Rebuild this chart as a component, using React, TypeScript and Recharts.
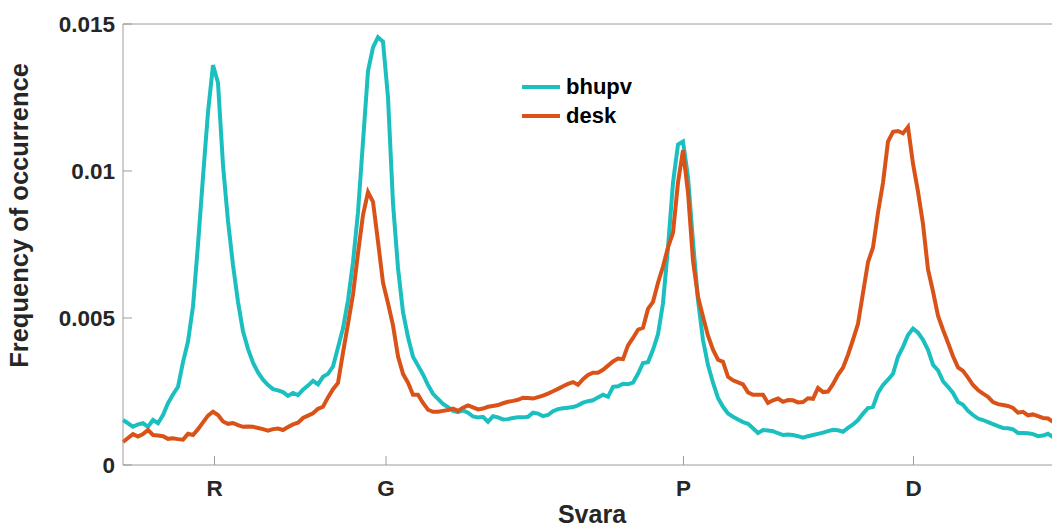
import { LineChart, Line, XAxis, YAxis, Legend } from "recharts";

// pitch bins (5 px apart in the original plot)
const binCount = 187;

// frequency of occurrence, in units of 1e-3
const bhupv = [
  1.53, 1.42, 1.3, 1.38, 1.42, 1.3, 1.53, 1.42, 1.7, 2.1,
  2.4, 2.66, 3.5, 4.2, 5.4, 7.5, 9.8, 12.0, 13.6, 13.0,
  10.2, 8.3, 6.8, 5.55, 4.55, 3.95, 3.48, 3.15, 2.9, 2.72,
  2.58, 2.54, 2.48, 2.35, 2.45, 2.38, 2.56, 2.7, 2.86, 2.74,
  3.0, 3.1, 3.35, 4.0, 4.65, 5.6, 6.9, 8.6, 11.0, 13.4,
  14.2, 14.55, 14.4, 12.5, 8.9, 6.7, 5.2, 4.35, 3.68, 3.38,
  3.08, 2.72, 2.42, 2.25, 2.08, 1.97, 1.84, 1.8, 1.86, 1.78,
  1.65, 1.62, 1.64, 1.47, 1.66, 1.62, 1.55, 1.56, 1.6, 1.62,
  1.62, 1.64, 1.78, 1.75, 1.66, 1.7, 1.83, 1.9, 1.93, 1.95,
  1.97, 2.03, 2.12, 2.17, 2.2, 2.3, 2.39, 2.32, 2.66, 2.68,
  2.76, 2.75, 2.8, 3.1, 3.47, 3.5, 3.92, 4.45, 5.5, 7.4,
  9.6, 10.9, 11.0, 9.8, 7.6, 5.6, 4.25, 3.4, 2.8, 2.28,
  1.98, 1.75, 1.64, 1.55, 1.46, 1.4, 1.25, 1.09, 1.19, 1.17,
  1.15, 1.08, 1.02, 1.04, 1.02, 0.98, 0.93, 0.98, 1.02, 1.06,
  1.1, 1.15, 1.2, 1.18, 1.13, 1.26, 1.38, 1.53, 1.75, 1.94,
  1.98, 2.45, 2.72, 2.9, 3.1, 3.68, 4.02, 4.42, 4.64, 4.5,
  4.26, 3.92, 3.41, 3.22, 2.85, 2.66, 2.45, 2.14, 2.05, 1.84,
  1.7, 1.58, 1.53, 1.46, 1.39, 1.32, 1.26, 1.25, 1.21, 1.09,
  1.09, 1.08, 1.05, 0.98, 1.0, 1.06, 0.95,
];

const desk = [
  0.78, 0.92, 1.05, 0.97, 1.05, 1.19, 1.02, 1.0, 0.98, 0.89,
  0.91, 0.88, 0.86, 1.06, 1.02, 1.22, 1.45, 1.68, 1.81, 1.7,
  1.48, 1.4, 1.43, 1.36, 1.3, 1.31, 1.3, 1.26, 1.22, 1.17,
  1.22, 1.24, 1.19, 1.29, 1.38, 1.44, 1.6, 1.68, 1.76, 1.91,
  1.98, 2.3, 2.58, 2.79, 3.82, 4.8, 5.8, 7.2, 8.5, 9.28,
  8.95, 7.6, 6.2, 5.5, 4.75, 3.7, 3.1, 2.8, 2.39, 2.39,
  2.11, 1.88, 1.81, 1.81, 1.84, 1.87, 1.92, 1.84, 1.95, 2.03,
  1.96, 1.89, 1.92, 1.98, 2.01, 2.04, 2.1, 2.15, 2.18, 2.22,
  2.29, 2.28, 2.26, 2.31, 2.36, 2.43, 2.51, 2.59, 2.68, 2.76,
  2.82, 2.73, 2.92, 3.06, 3.14, 3.14, 3.24, 3.38, 3.52, 3.62,
  3.6, 4.07, 4.32, 4.6, 4.67, 5.31, 5.55, 6.2, 6.75, 7.4,
  7.9, 9.61, 10.7, 9.27, 6.95, 5.72, 5.04, 4.4, 3.92, 3.58,
  3.51, 3.0, 2.88, 2.81, 2.74, 2.47, 2.39, 2.39, 2.39, 2.11,
  2.2, 2.26, 2.15, 2.21, 2.2, 2.13, 2.14, 2.27, 2.25, 2.62,
  2.48, 2.5, 2.75, 3.07, 3.31, 3.75, 4.26, 4.8, 5.85, 6.9,
  7.4, 8.59, 9.6, 11.0, 11.33, 11.36, 11.28, 11.5, 10.25, 9.3,
  8.2, 6.65, 5.9, 5.08, 4.6, 4.16, 3.7, 3.32, 3.2, 2.97,
  2.72, 2.55, 2.43, 2.32, 2.14, 2.07, 2.04, 2.01, 1.94, 1.78,
  1.81, 1.69, 1.72, 1.66, 1.6, 1.58, 1.47,
];

const svaraTicks = [18.3, 52.6, 112.1, 158.1];
const svaraLabels = ["R", "G", "P", "D"];
const freqTicks = [0, 0.005, 0.01, 0.015];

const data = Array.from({ length: binCount }, (_, i) => ({
  bin: i,
  bhupv: bhupv[i] / 1000,
  desk: desk[i] / 1000,
}));

const FONT = "'Liberation Sans', Arial, Helvetica, sans-serif";
const AXIS = "#9c9c9c";
const TEXT = "#262626";

const tickStyle = { fontSize: 22.5, fontWeight: 700, fill: TEXT, fontFamily: FONT };

function YLabel(props: any) {
  const vb = props.viewBox || {};
  const cx = vb.x + 28;
  const cy = vb.y + vb.height / 2 - 29;
  return (
    <text
      x={cx}
      y={cy}
      transform={`rotate(-90, ${cx}, ${cy})`}
      textAnchor="middle"
      fontSize={25.5}
      fontWeight={700}
      fill={TEXT}
      fontFamily={FONT}
    >
      Frequency of occurrence
    </text>
  );
}

function XLabel(props: any) {
  const vb = props.viewBox || {};
  return (
    <text
      x={vb.x + vb.width / 2 + 4}
      y={vb.y + 58}
      textAnchor="middle"
      fontSize={25}
      fontWeight={700}
      fill={TEXT}
      fontFamily={FONT}
    >
      Svara
    </text>
  );
}

function LegendBox(props: any) {
  const items = props.payload || [];
  return (
    <div style={{ fontFamily: FONT }}>
      {items.map((it: any) => (
        <div
          key={it.value}
          style={{ display: "flex", alignItems: "center", height: 29 }}
        >
          <span
            style={{
              display: "inline-block",
              width: 38,
              height: 4,
              background: it.color,
              marginRight: 6,
            }}
          />
          <span style={{ fontSize: 22, fontWeight: 700, color: "#000" }}>
            {it.value}
          </span>
        </div>
      ))}
    </div>
  );
}

export default function App() {
  return (
    <div
      style={{
        position: "absolute",
        left: 0,
        top: 0,
        width: 1052,
        height: 529,
        overflow: "hidden",
        background: "#fff",
      }}
    >
      <LineChart
        width={1054}
        height={529}
        data={data}
        margin={{ top: 23, right: 1, bottom: 0, left: 0 }}
      >
        <XAxis
          dataKey="bin"
          type="number"
          domain={[0, binCount - 1]}
          ticks={svaraTicks}
          interval={0}
          tickFormatter={(v: number) => svaraLabels[svaraTicks.indexOf(v)] ?? ""}
          height={64}
          tickSize={-9}
          tickMargin={24}
          stroke={AXIS}
          tick={tickStyle}
          label={<XLabel />}
        />
        <XAxis
          xAxisId="top"
          orientation="top"
          dataKey="bin"
          type="number"
          domain={[0, binCount - 1]}
          ticks={svaraTicks}
          interval={0}
          height={1}
          tickSize={-9}
          stroke={AXIS}
          tick={false}
        />
        <YAxis
          type="number"
          domain={[0, 0.015]}
          ticks={freqTicks}
          interval={0}
          width={123}
          tickSize={-9}
          tickMargin={17}
          stroke={AXIS}
          tick={tickStyle}
          label={<YLabel />}
        />
        <Legend
          layout="horizontal"
          verticalAlign="middle"
          align="center"
          content={<LegendBox />}
          wrapperStyle={{ left: 522, top: 72, width: "auto" }}
        />
        <Line
          type="linear"
          dataKey="bhupv"
          name="bhupv"
          stroke="#1bbfbf"
          strokeWidth={4}
          dot={false}
          isAnimationActive={false}
        />
        <Line
          type="linear"
          dataKey="desk"
          name="desk"
          stroke="#d95319"
          strokeWidth={4}
          dot={false}
          isAnimationActive={false}
        />
      </LineChart>
    </div>
  );
}
